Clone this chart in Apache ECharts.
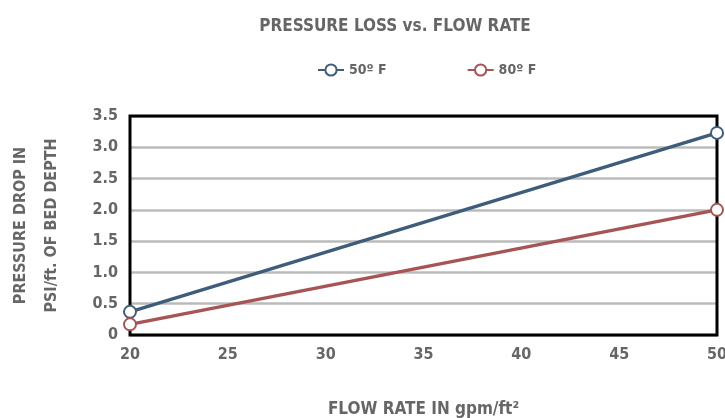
<!DOCTYPE html>
<html>
<head>
<meta charset="utf-8">
<script src="https://cdn.jsdelivr.net/npm/echarts@6/dist/echarts.min.js"></script>
<style>
  html, body { margin: 0; padding: 0; background: #fff; }
  #main { width: 725px; height: 418px; }
</style>
</head>
<body>
<div id="main"></div>
<script>
  // flow rate (gpm/ft2)
  const flowRates = [20, 50];
  const temp50 = [0.37, 3.23];
  const temp80 = [0.17, 2.0];
  const seriesNames = ['50\u00BA F', '80\u00BA F'];

  const font = '"DejaVu Sans Condensed", "Liberation Sans Narrow", sans-serif';
  const grey = '#666';

  const chart = echarts.init(document.getElementById('main'));

  const option = {
    animation: false,
    title: {
      text: 'PRESSURE LOSS vs. FLOW RATE',
      left: 390,
      textAlign: 'center',
      top: 13,
      textStyle: { fontFamily: font, fontSize: 17, fontWeight: 'bold', color: grey }
    },
    legend: {
      top: 58,
      left: 312,
      itemGap: 80,
      itemWidth: 26,
      itemHeight: 14,
      textStyle: { fontFamily: font, fontSize: 14, fontWeight: 'bold', color: grey },
      data: seriesNames
    },
    grid: { left: 130, right: 8, top: 116, bottom: 83, outerBoundsMode: 'none' },
    xAxis: {
      type: 'value',
      min: 20, max: 50, interval: 5,
      name: 'FLOW RATE IN gpm/ft\u00B2',
      nameLocation: 'middle',
      nameGap: 66,
      nameTextStyle: { fontFamily: font, fontSize: 17, fontWeight: 'bold', color: grey },
      axisLine: { show: false },
      axisTick: { show: false },
      splitLine: { show: false },
      axisLabel: { fontFamily: font, fontSize: 16, fontWeight: 'bold', color: grey, margin: 12 }
    },
    yAxis: {
      type: 'value',
      min: 0, max: 3.5, interval: 0.5,
      name: 'PRESSURE DROP IN\nPSI/ft. OF BED DEPTH',
      nameLocation: 'middle',
      nameGap: 63,
      nameTextStyle: { fontFamily: font, fontSize: 16, fontWeight: 'bold', color: grey, lineHeight: 31 },
      axisLine: { show: false },
      axisTick: { show: false },
      splitLine: { lineStyle: { color: '#bbb', width: 2.5 } },
      axisLabel: {
        fontFamily: font, fontSize: 16, fontWeight: 'bold', color: grey, margin: 12,
        formatter: v => v === 0 ? '0' : v.toFixed(1)
      }
    },
    graphic: [{
      type: 'rect',
      shape: { x: 130, y: 116, width: 587, height: 219 },
      style: { fill: 'none', stroke: '#000', lineWidth: 3 },
      z: 10
    }],
    series: [
      {
        name: seriesNames[0],
        type: 'line',
        data: flowRates.map((x, i) => [x, temp50[i]]),
        symbol: 'emptyCircle',
        symbolSize: 12,
        lineStyle: { color: '#3f5d7b', width: 3.5 },
        itemStyle: { color: '#3f5d7b', borderWidth: 3.5 },
        z: 20
      },
      {
        name: seriesNames[1],
        type: 'line',
        data: flowRates.map((x, i) => [x, temp80[i]]),
        symbol: 'emptyCircle',
        symbolSize: 12,
        lineStyle: { color: '#a65455', width: 3.5 },
        itemStyle: { color: '#a65455', borderWidth: 3.5 },
        z: 20
      }
    ]
  };

  chart.setOption(option);
</script>
</body>
</html>
